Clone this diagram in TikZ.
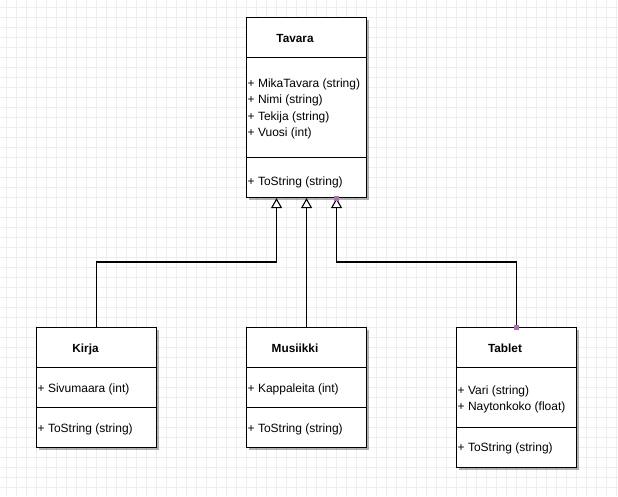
\documentclass[tikz,border=0pt]{standalone}
\usepackage{fontspec}
\setmainfont{Liberation Sans}
\usetikzlibrary{arrows.meta,shadows}
\definecolor{handle}{RGB}{176,110,176}
\definecolor{gridc}{RGB}{238,238,238}
\begin{document}
\begin{tikzpicture}[x=1pt,y=-1pt,
  cls/.style={draw=black, line width=1.1pt, fill=white, anchor=north west, inner sep=0pt,
    minimum width=120pt, drop shadow={shadow xshift=2.5pt, shadow yshift=-2.5pt, fill=black, opacity=0.3}},
  sep/.style={line width=1pt},
  ttl/.style={font=\fontsize{11.8}{13}\selectfont\bfseries, inner sep=0pt, text height=8.5pt, text depth=0pt},
  attr/.style={font=\fontsize{12}{13}\selectfont, inner sep=0pt, anchor=west, text height=8.5pt, text depth=0pt},
  inh/.style={line width=1.1pt, -{Triangle[open, width=11pt, length=10pt, fill=white]}},
  hnd/.style={fill=handle, draw=none, minimum size=5pt, inner sep=0pt}]
\useasboundingbox (0,0) rectangle (618,496);
\fill[white] (0,0) rectangle (618,496);
\foreach \x in {6,16,...,616} \draw[gridc, line width=0.8pt] (\x,0) -- (\x,496);
\foreach \y in {7,17,...,487} \draw[gridc, line width=0.8pt] (0,\y) -- (618,\y);

% Tavara
\node[cls, minimum height=180pt] (t) at (246,17) {};
\draw[sep] ([yshift=-40pt]t.north west) -- ([yshift=-40pt]t.north east);
\draw[sep] ([yshift=-140pt]t.north west) -- ([yshift=-140pt]t.north east);
\node[ttl] (tt) at ([xshift=49pt, yshift=-21pt]t.north west) {Tavara};
\node[attr] (ta1) at ([xshift=1.5pt, yshift=-66pt]t.north west) {+ MikaTavara (string)};
\node[attr] (ta2) at ([xshift=1.5pt, yshift=-82.5pt]t.north west) {+ Nimi (string)};
\node[attr] (ta3) at ([xshift=1.5pt, yshift=-99pt]t.north west) {+ Tekija (string)};
\node[attr] (ta4) at ([xshift=1.5pt, yshift=-115.5pt]t.north west) {+ Vuosi (int)};
\node[attr] (tm1) at ([xshift=1.5pt, yshift=-164.5pt]t.north west) {+ ToString (string)};

% Kirja
\node[cls, minimum height=120pt] (k) at (36,327) {};
\draw[sep] ([yshift=-40pt]k.north west) -- ([yshift=-40pt]k.north east);
\draw[sep] ([yshift=-80pt]k.north west) -- ([yshift=-80pt]k.north east);
\node[ttl] (kt) at ([xshift=49.5pt, yshift=-21pt]k.north west) {Kirja};
\node[attr] (ka1) at ([xshift=1.5pt, yshift=-61.5pt]k.north west) {+ Sivumaara (int)};
\node[attr] (km1) at ([xshift=1.5pt, yshift=-101pt]k.north west) {+ ToString (string)};

% Musiikki
\node[cls, minimum height=120pt] (m) at (246,327) {};
\draw[sep] ([yshift=-40pt]m.north west) -- ([yshift=-40pt]m.north east);
\draw[sep] ([yshift=-80pt]m.north west) -- ([yshift=-80pt]m.north east);
\node[ttl] (mt) at ([xshift=49pt, yshift=-21pt]m.north west) {Musiikki};
\node[attr] (ma1) at ([xshift=1.5pt, yshift=-61.5pt]m.north west) {+ Kappaleita (int)};
\node[attr] (mm1) at ([xshift=1.5pt, yshift=-101pt]m.north west) {+ ToString (string)};

% Tablet
\node[cls, minimum height=140pt] (b) at (456,327) {};
\draw[sep] ([yshift=-40pt]b.north west) -- ([yshift=-40pt]b.north east);
\draw[sep] ([yshift=-100pt]b.north west) -- ([yshift=-100pt]b.north east);
\node[ttl] (bt) at ([xshift=49pt, yshift=-21pt]b.north west) {Tablet};
\node[attr] (ba1) at ([xshift=1.5pt, yshift=-63pt]b.north west) {+ Vari (string)};
\node[attr] (ba2) at ([xshift=1.5pt, yshift=-79.5pt]b.north west) {+ Naytonkoko (float)};
\node[attr] (bm1) at ([xshift=1.5pt, yshift=-120.5pt]b.north west) {+ ToString (string)};

% inheritance connectors
\coordinate (tk) at ([xshift=-30pt]t.south);
\coordinate (tb) at ([xshift=30pt]t.south);
\draw[inh] (k.north) |- ++(0,-65) -| (tk);
\draw[inh] (m.north) -- (t.south);
\draw[inh] (b.north) |- ++(0,-65) -| (tb);

% selection handles
\node[hnd] (h1) at (tb) {};
\node[hnd] (h2) at (b.north) {};
\end{tikzpicture}
\end{document}
